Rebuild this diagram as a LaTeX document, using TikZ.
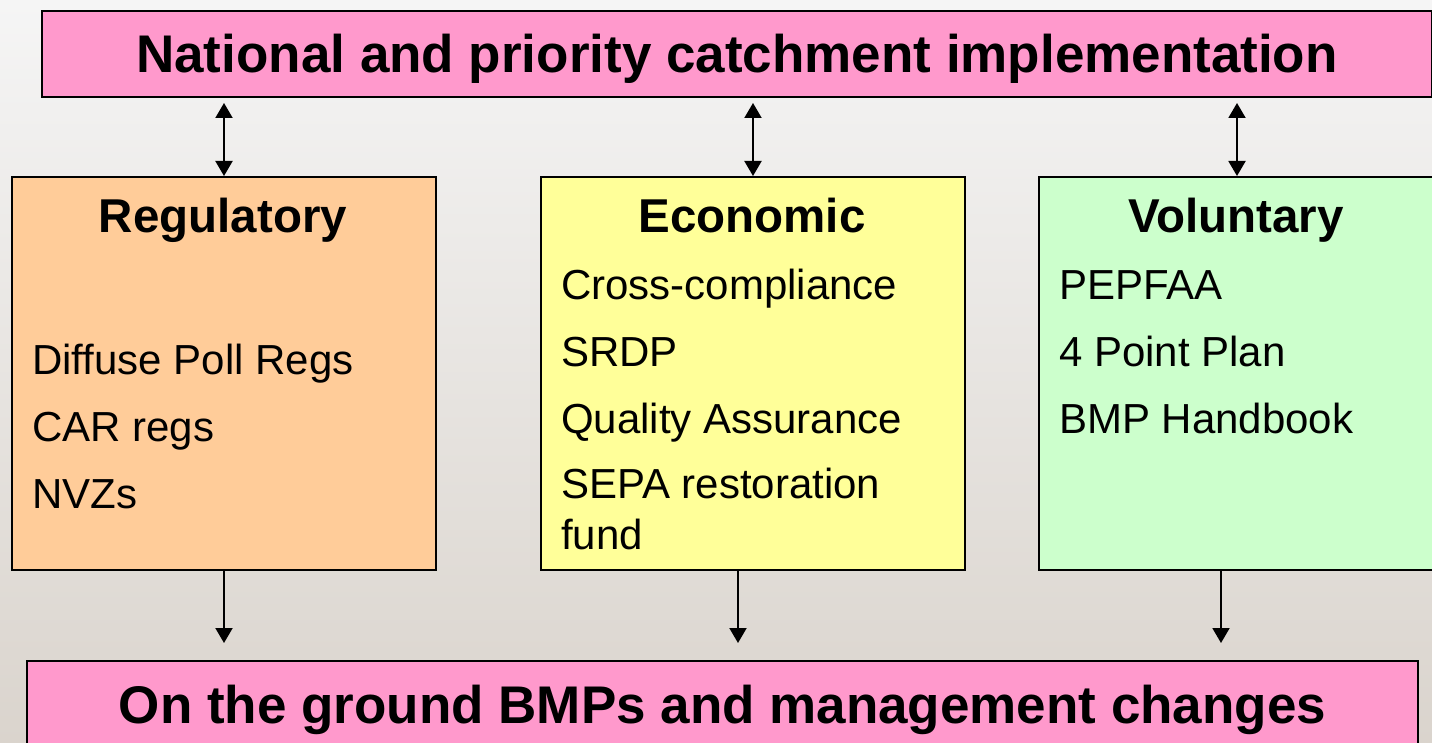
\documentclass[tikz,border=0pt]{standalone}
\usepackage{fontspec}
\setmainfont{Liberation Sans}
\usetikzlibrary{arrows.meta}

\definecolor{boxpink}{RGB}{255,153,204}
\definecolor{boxorange}{RGB}{255,204,153}
\definecolor{boxyellow}{RGB}{255,255,153}
\definecolor{boxgreen}{RGB}{204,255,204}
\definecolor{hazetop}{RGB}{245,245,245}
\definecolor{hazemid}{RGB}{230,228,226}
\definecolor{hazelow}{RGB}{218,212,205}

\tikzset{
  panel/.style={draw=black, line width=2pt, rectangle, inner sep=0pt, anchor=north west},
  banner/.style={panel, fill=boxpink, text height=38pt, text depth=0pt,
    font=\fontsize{53}{60}\selectfont\bfseries},
  colhead/.style={font=\fontsize{47.5}{55}\selectfont\bfseries, anchor=base, inner sep=0pt},
  entry/.style={font=\fontsize{42}{51}\selectfont, anchor=base west, inner sep=0pt, align=left},
  tip/.tip={Triangle[width=17pt,length=15pt]},
  link/.style={line width=2pt, -tip},
  twoway/.style={line width=2pt, tip-tip},
}

\begin{document}
\begin{tikzpicture}[x=1pt,y=-1pt]

\useasboundingbox (0,0) rectangle (1432,743);
%% hazy backdrop
\shade[top color=hazetop, middle color=hazemid, bottom color=hazelow] (0,0) rectangle (1432,743);

%% top and bottom banners
\node[banner, minimum width=1390pt, minimum height=86pt] (national) at (41,10)
  {National and priority catchment implementation};
\node[banner, minimum width=1391pt, minimum height=86pt] (ground) at (26,660)
  {On the ground BMPs and management changes};

%% the three columns
\node[panel, fill=boxorange, minimum width=424pt, minimum height=393pt] (reg) at (11,176) {};
\node[panel, fill=boxyellow, minimum width=424pt, minimum height=393pt] (econ) at (540,176) {};
\node[panel, fill=boxgreen, minimum width=396pt, minimum height=393pt] (vol) at (1038,176) {};

\node[colhead] (reghead) at (223,233) {Regulatory};
\node[entry] (dpr) at (32,374) {Diffuse Poll Regs};
\node[entry] (car) at (32,441) {CAR regs};
\node[entry] (nvz) at (32,508) {NVZs};

\node[colhead] (econhead) at (752,233) {Economic};
\node[entry] (cross) at (561,299) {Cross-compliance};
\node[entry] (srdp) at (561,366) {SRDP};
\node[entry] (qa) at (561,433) {Quality Assurance};
\node[entry] (sepa) at (561,549) {SEPA restoration\\fund}; % base = last line

\node[colhead] (volhead) at (1236,233) {Voluntary};
\node[entry] (pep) at (1059,299) {PEPFAA};
\node[entry] (fpp) at (1059,366) {4 Point Plan};
\node[entry] (bmp) at (1059,433) {BMP Handbook};

%% links up to the national level
\draw[twoway, shorten <=5pt] (national.south -| reg.north) -- (reg.north);
\draw[twoway, shorten <=5pt] (national.south -| econ.north) -- (econ.north);
\draw[twoway, shorten <=5pt] (national.south -| vol.north) -- (vol.north);

%% links down to the ground
\coordinate (econout) at ([xshift=-15pt]econ.south);
\coordinate (volout) at ([xshift=-16pt]vol.south);
\draw[link, shorten >=17pt] (reg.south) -- (reg.south |- ground.north);
\draw[link, shorten >=17pt] (econout) -- (econout |- ground.north);
\draw[link, shorten >=17pt] (volout) -- (volout |- ground.north);

\end{tikzpicture}
\end{document}
